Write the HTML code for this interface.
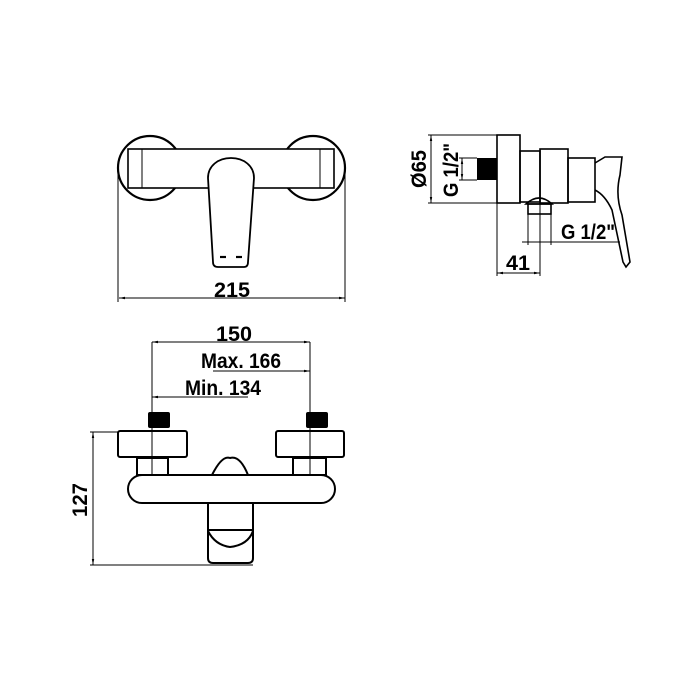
<!DOCTYPE html>
<html><head><style>body{margin:0;background:#fff}svg{display:block}</style></head><body>
<svg width="700" height="700" viewBox="0 0 700 700" xmlns="http://www.w3.org/2000/svg">
<defs>
<marker id="a" viewBox="0 0 10 10" refX="10" refY="5" markerWidth="6" markerHeight="6" orient="auto-start-reverse"><path d="M0,3 L10,5 L0,7z" fill="#000"/></marker>
</defs>
<g fill="none" stroke="#000" stroke-width="2.2">
<circle cx="150" cy="168" r="32"/>
<circle cx="313" cy="168" r="32"/>
<rect x="128" y="149" width="206" height="39" fill="#fff" stroke-width="1.6"/>
<line x1="142" y1="149" x2="142" y2="188" stroke-width="1"/>
<line x1="320" y1="149" x2="320" y2="188" stroke-width="1"/>
<path d="M231,158 C218,158 208,166 208,178 L213,262 Q213,267 218,267 L244,267 Q248,267 248,262 L254,178 C254,166 244,158 231,158Z" fill="#fff" stroke-width="1.8"/>
<line x1="220" y1="257" x2="226" y2="257"/><line x1="236" y1="257" x2="242" y2="257"/>
</g>
<g stroke="#000" stroke-width="1" fill="none">
<line x1="118" y1="170" x2="118" y2="302"/><line x1="345" y1="170" x2="345" y2="302"/>
<line x1="119" y1="298" x2="345" y2="298" marker-start="url(#a)" marker-end="url(#a)"/>
</g>
<g fill="none" stroke="#000" stroke-width="1.6">
<rect x="497" y="135" width="23" height="68"/>
<rect x="520" y="151" width="20" height="51"/>
<rect x="540" y="149" width="28" height="54"/>
<rect x="568" y="158" width="27" height="44"/>
<path d="M595,163 L605,157 L622,157 L620,175 Q615,195 622,215 L630,262 L626,267 L623,262 L612,210 Q605,195 595,190"/>
<path d="M526,204 Q539,192 552,204Z"/>
<rect x="528" y="204" width="23" height="10"/>
</g>
<rect x="477" y="158" width="20" height="22" fill="#000"/>
<g stroke="#000" stroke-width="1" fill="none">
<line x1="428" y1="135" x2="497" y2="135"/><line x1="428" y1="203" x2="497" y2="203"/>
<line x1="431" y1="135" x2="431" y2="203" marker-start="url(#a)" marker-end="url(#a)"/>
<line x1="459" y1="158" x2="477" y2="158"/><line x1="459" y1="180" x2="477" y2="180"/>
<line x1="462" y1="158" x2="462" y2="180" marker-start="url(#a)" marker-end="url(#a)"/>
<line x1="528" y1="214" x2="528" y2="245"/><line x1="551" y1="214" x2="551" y2="245"/>
<line x1="522" y1="242" x2="620" y2="242"/>
<line x1="497" y1="203" x2="497" y2="276"/><line x1="540" y1="203" x2="540" y2="276"/>
<line x1="497" y1="273" x2="540" y2="273" marker-start="url(#a)" marker-end="url(#a)"/>
</g>
<g fill="none" stroke="#000" stroke-width="2">
<rect x="118" y="431" width="69" height="26" rx="2"/>
<rect x="276" y="431" width="68" height="26" rx="2"/>
<rect x="137" y="458" width="31" height="17"/>
<rect x="293" y="458" width="33" height="17"/>
<path d="M212,475 Q222,455 230,458 Q240,455 248,475"/>
<rect x="128" y="475" width="207" height="28" rx="14" fill="#fff"/>
<rect x="208" y="503" width="45" height="27"/>
<path d="M208,530 L253,530 L253,558 Q253,563 248,563 L213,563 Q208,563 208,558Z"/>
<path d="M208,531 Q215,545 230,547 Q248,545 253,531"/>
</g>
<rect x="148" y="412" width="22" height="16" fill="#000" rx="2"/>
<rect x="306" y="412" width="22" height="16" fill="#000" rx="2"/>
<g stroke="#000" stroke-width="1" fill="none">
<line x1="152" y1="342" x2="152" y2="475"/><line x1="310" y1="342" x2="310" y2="475"/>
<line x1="152" y1="342" x2="310" y2="342" marker-start="url(#a)" marker-end="url(#a)"/>
<line x1="213" y1="371" x2="310" y2="371" marker-end="url(#a)"/>
<line x1="152" y1="397" x2="248" y2="397" marker-start="url(#a)"/>
<line x1="90" y1="432" x2="118" y2="432"/><line x1="90" y1="565" x2="253" y2="565"/>
<line x1="93" y1="432" x2="93" y2="565" marker-start="url(#a)" marker-end="url(#a)"/>
</g>
<g font-family="Liberation Sans, sans-serif" font-weight="bold" font-size="21" fill="#000" text-anchor="middle">
<text x="232" y="297" textLength="36" lengthAdjust="spacingAndGlyphs">215</text>
<text x="518" y="270" textLength="24" lengthAdjust="spacingAndGlyphs">41</text>
<text x="588" y="239" textLength="54" lengthAdjust="spacingAndGlyphs">G 1/2"</text>
<text transform="translate(426,169) rotate(-90)" textLength="38" lengthAdjust="spacingAndGlyphs">Ø65</text>
<text transform="translate(458,170) rotate(-90)" textLength="54" lengthAdjust="spacingAndGlyphs">G 1/2"</text>
<text x="234" y="341" textLength="36" lengthAdjust="spacingAndGlyphs">150</text>
<text x="241" y="368" textLength="80" lengthAdjust="spacingAndGlyphs">Max. 166</text>
<text x="223" y="395" textLength="76" lengthAdjust="spacingAndGlyphs">Min. 134</text>
<text transform="translate(87,500) rotate(-90)" textLength="34" lengthAdjust="spacingAndGlyphs">127</text>
</g>
</svg>
</body></html>
